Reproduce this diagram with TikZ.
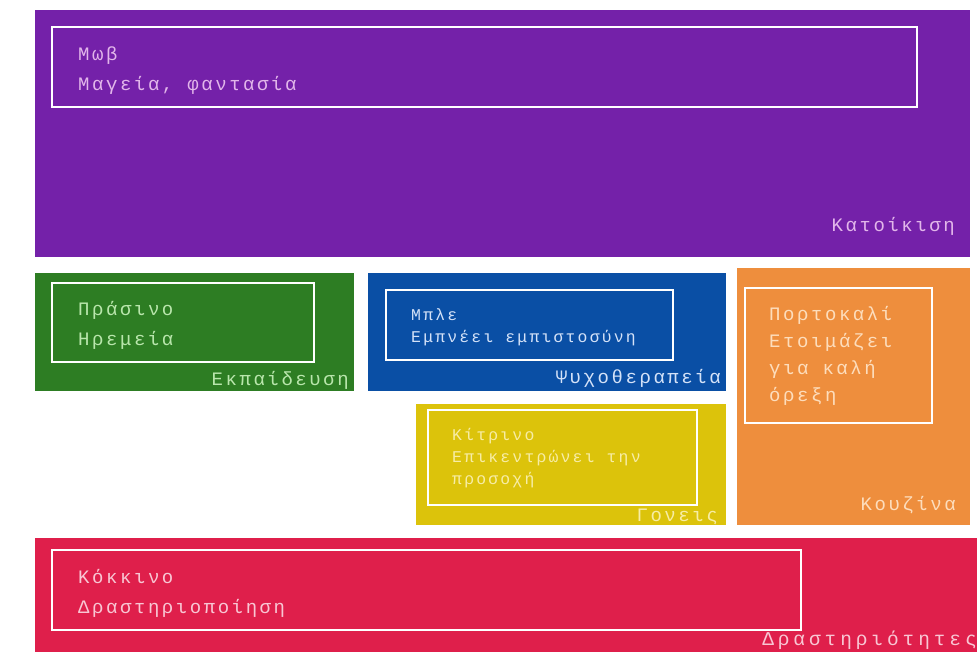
\documentclass[tikz,border=0pt]{standalone}
\usepackage{fontspec}
\usepackage{xcolor}
\usepackage{tikz}
\usetikzlibrary{positioning}
\newfontfamily\swatchfont{Liberation Mono}[LetterSpace=13.5]
\newfontfamily\widefont{Liberation Mono}[LetterSpace=20]

\definecolor{mauvefill}{HTML}{7421A9}
\definecolor{mauvetext}{HTML}{E2B6EA}
\definecolor{greenfill}{HTML}{2D7D23}
\definecolor{greentext}{HTML}{B9E6AC}
\definecolor{bluefill}{HTML}{0A4FA5}
\definecolor{bluetext}{HTML}{D4E2F8}
\definecolor{yellowfill}{HTML}{DCC30B}
\definecolor{yellowtext}{HTML}{F7EDA6}
\definecolor{orangefill}{HTML}{EE8E3D}
\definecolor{orangetext}{HTML}{FDDDBC}
\definecolor{redfill}{HTML}{DF1F4B}
\definecolor{redtext}{HTML}{F8C6D3}

\begin{document}
\begin{tikzpicture}[
    x=1pt, y=-1pt,
    block/.style={rectangle, anchor=north west, inner sep=0pt, outer sep=0pt},
    frame/.style={rectangle, anchor=north west, inner sep=0pt, outer sep=0pt, draw=white, line width=2.4pt},
    bigtext/.style={anchor=north west, inner sep=0pt, align=left, font=\swatchfont\fontsize{19}{30}\selectfont},
    smalltext/.style={anchor=north west, inner sep=0pt, align=left, font=\swatchfont\fontsize{16.4}{22}\selectfont},
    caption/.style={anchor=base east, inner sep=0pt, font=\swatchfont\fontsize{19}{23}\selectfont}
]
\useasboundingbox[fill=white] (0,0) rectangle (977,652);

% Mauve
\node[block, fill=mauvefill, minimum width=935pt, minimum height=247pt] (mauve) at (35,10) {};
\node[frame, minimum width=865pt, minimum height=80pt] (mauveframe) at (52,27) {};
\node[bigtext, text=mauvetext] (mauvelines) at (78,39) {\strut Μωβ\\Μαγεία, φαντασία};
\node[caption, text=mauvetext] (mauvecap) at (955,232) {Κατοίκιση};

% Green
\node[block, fill=greenfill, minimum width=319pt, minimum height=118pt] (green) at (35,273) {};
\node[frame, minimum width=262pt, minimum height=79pt] (greenframe) at (52,283) {};
\node[bigtext, text=greentext] (greenlines) at (78,294) {\strut Πράσινο\\Ηρεμεία};
\node[caption, text=greentext] (greencap) at (349,385) {Εκπαίδευση};

% Blue
\node[block, fill=bluefill, minimum width=358pt, minimum height=118pt] (blue) at (368,273) {};
\node[frame, minimum width=287pt, minimum height=70pt] (blueframe) at (386,290) {};
\node[smalltext, text=bluetext] (bluelines) at (411,304.6) {\strut Μπλε\\Εμπνέει εμπιστοσύνη};
\node[caption, text=bluetext] (bluecap) at (721,383) {Ψυχοθεραπεία};

% Yellow
\node[block, fill=yellowfill, minimum width=310pt, minimum height=121pt] (yellow) at (416,404) {};
\node[caption, text=yellowtext] (yellowcap) at (718,521) {Γονεις};
\node[frame, minimum width=269pt, minimum height=95pt] (yellowframe) at (428,410) {};
\node[smalltext, text=yellowtext] (yellowlines) at (452,424.6) {\strut Κίτρινο\\Επικεντρώνει την\\προσοχή};

% Orange
\node[block, fill=orangefill, minimum width=233pt, minimum height=257pt] (orange) at (737,268) {};
\node[frame, minimum width=187pt, minimum height=135pt] (orangeframe) at (745,288) {};
\node[bigtext, text=orangetext, font=\swatchfont\fontsize{19}{27}\selectfont] (orangelines) at (769,301.1) {\strut Πορτοκαλί\\Ετοιμάζει\\για καλή\\όρεξη};
\node[caption, text=orangetext] (orangecap) at (956,510) {Κουζίνα};

% Red
\node[block, fill=redfill, minimum width=942pt, minimum height=114pt] (red) at (35,538) {};
\node[frame, minimum width=749pt, minimum height=80pt] (redframe) at (52,550) {};
\node[bigtext, text=redtext] (redlines) at (78,562) {\strut Κόκκινο\\Δραστηριοποίηση};
\node[caption, text=redtext, font=\widefont\fontsize{19.5}{23}\selectfont] (redcap) at (977,645) {Δραστηριότητες};
\end{tikzpicture}
\end{document}
